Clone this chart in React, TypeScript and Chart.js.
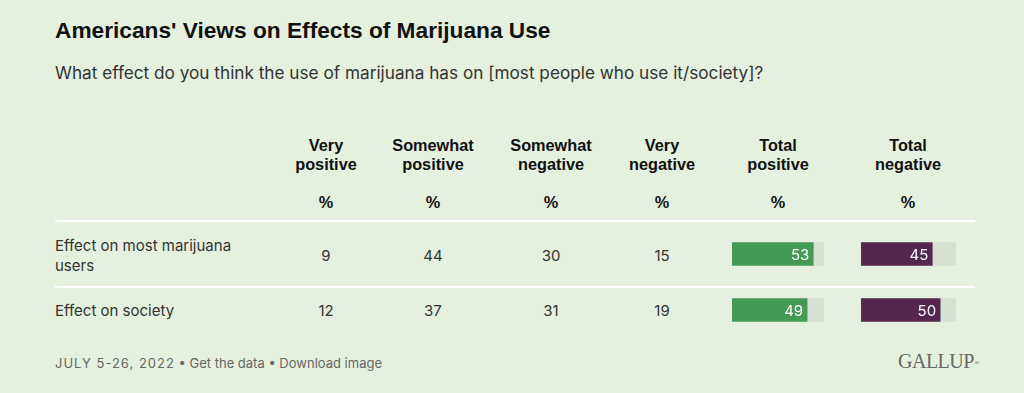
import React, { useEffect, useRef } from "react";
import { Chart, registerables } from "chart.js";

Chart.register(...registerables);

const title = "Americans' Views on Effects of Marijuana Use";
const subtitle = "What effect do you think the use of marijuana has on [most people who use it/society]?";
const rowLabels = ["Effect on most marijuana users", "Effect on society"];
const rowLabelLines = [["Effect on most marijuana", "users"], ["Effect on society"]];
const columnHeaders = [
  ["Very", "positive"],
  ["Somewhat", "positive"],
  ["Somewhat", "negative"],
  ["Very", "negative"],
  ["Total", "positive"],
  ["Total", "negative"],
];
const veryPositive = [9, 12];
const somewhatPositive = [44, 37];
const somewhatNegative = [30, 31];
const veryNegative = [15, 19];
const totalPositive = [53, 49];
const totalNegative = [45, 50];
const trackMax = 60;
const footerText = "JULY 5-26, 2022";
const footerLinks = "• Get the data • Download image";

const BG = "#e5f0df";
const GREEN = "#439a55";
const PURPLE = "#55274e";
const TRACK = "#d7e0d3";
const TEXT = "#333333";

const colCenters = [326, 433, 551, 662, 778, 908];
const rowCenters = [256, 311];

function BarColumn(props: { values: number[]; color: string; left: number; width: number }) {
  const ref = useRef<HTMLCanvasElement | null>(null);
  useEffect(() => {
    if (!ref.current) return;
    const labelPlugin = {
      id: "valueLabels",
      afterDatasetsDraw(chart: any) {
        const meta = chart.getDatasetMeta(0);
        const ctx = chart.ctx;
        ctx.save();
        ctx.fillStyle = "#ffffff";
        ctx.font = "15px Inter, 'Noto Sans', sans-serif";
        ctx.textAlign = "right";
        ctx.textBaseline = "middle";
        meta.data.forEach((el: any, i: number) => {
          ctx.fillText(String(props.values[i]), el.x - 4, el.y + 1);
        });
        ctx.restore();
      },
    };
    const chart = new Chart(ref.current, {
      type: "bar",
      data: {
        labels: rowLabels,
        datasets: [
          {
            data: props.values,
            backgroundColor: props.color,
            barThickness: 23,
            grouped: false,
            order: 0,
          } as any,
          {
            data: rowLabels.map(() => trackMax),
            backgroundColor: TRACK,
            barThickness: 23,
            grouped: false,
            order: 1,
          } as any,
        ],
      },
      options: {
        indexAxis: "y",
        animation: false,
        responsive: false,
        layout: { padding: 0 },
        scales: {
          x: { display: false, min: 0, max: trackMax },
          y: { display: false },
        },
        plugins: { legend: { display: false }, tooltip: { enabled: false } },
      },
      plugins: [labelPlugin],
    });
    return () => chart.destroy();
  }, []);
  return (
    <canvas
      ref={ref}
      width={props.width}
      height={112}
      style={{ position: "absolute", left: props.left, top: 226, width: props.width, height: 112 }}
    />
  );
}

export default function App() {
  useEffect(() => {
    document.body.style.margin = "0";
  }, []);
  const numCols = [veryPositive, somewhatPositive, somewhatNegative, veryNegative];
  const bodyFont = "Inter, 'Noto Sans', sans-serif";
  const headFont = "'Liberation Sans', Arial, sans-serif";
  return (
    <div
      style={{
        position: "fixed",
        left: 0,
        top: 0,
        width: 1024,
        height: 393,
        background: BG,
        overflow: "hidden",
        fontFamily: bodyFont,
        color: TEXT,
      }}
    >
      <div style={{ position: "absolute", left: 55, top: 16, fontFamily: headFont, fontWeight: 700, fontSize: 22.7, color: "#111", whiteSpace: "nowrap", lineHeight: "28px" }}>
        {title}
      </div>
      <div style={{ position: "absolute", left: 55, top: 61, fontSize: 17.2, color: TEXT, whiteSpace: "nowrap", lineHeight: "24px" }}>
        {subtitle}
      </div>
      {columnHeaders.map((h, i) => (
        <div key={i}>
          <div style={{ position: "absolute", left: colCenters[i] - 60, width: 120, top: 136, textAlign: "center", fontFamily: headFont, fontWeight: 700, fontSize: 16.3, lineHeight: "19px", color: "#111" }}>
            {h[0]}
            <br />
            {h[1]}
          </div>
          <div style={{ position: "absolute", left: colCenters[i] - 30, width: 60, top: 193, textAlign: "center", fontFamily: headFont, fontWeight: 700, fontSize: 16.3, lineHeight: "19px", color: "#111" }}>
            %
          </div>
        </div>
      ))}
      <div style={{ position: "absolute", left: 55, top: 220, width: 920, height: 2, background: "#ffffff" }} />
      <div style={{ position: "absolute", left: 55, top: 286, width: 920, height: 2, background: "#ffffff" }} />
      {rowLabelLines.map((lines, r) => (
        <div key={r} style={{ position: "absolute", left: 55, top: rowCenters[r] - 10 * lines.length, fontSize: 15, lineHeight: "20px", whiteSpace: "nowrap" }}>
          {lines.map((l, k) => (
            <div key={k}>{l}</div>
          ))}
        </div>
      ))}
      {numCols.map((col, c) =>
        col.map((v, r) => (
          <div key={c + "-" + r} style={{ position: "absolute", left: colCenters[c] - 30, width: 60, top: rowCenters[r] - 10, textAlign: "center", fontSize: 15, lineHeight: "20px" }}>
            {v}
          </div>
        ))
      )}
      <BarColumn values={totalPositive} color={GREEN} left={732} width={92} />
      <BarColumn values={totalNegative} color={PURPLE} left={861} width={95} />
      <div style={{ position: "absolute", left: 55, top: 354, fontSize: 13, lineHeight: "18px", color: "#666", whiteSpace: "nowrap" }}>
        <span style={{ letterSpacing: 1 }}>{footerText}</span> {footerLinks}
      </div>
      <div style={{ position: "absolute", left: 898, top: 349, fontFamily: "'Liberation Serif', serif", fontSize: 20, lineHeight: "24px", color: "#666666", whiteSpace: "nowrap", letterSpacing: -0.5 }}>
        GALLUP<span style={{ fontSize: 7, verticalAlign: "top", position: "relative", top: 2 }}>®</span>
      </div>
    </div>
  );
}
